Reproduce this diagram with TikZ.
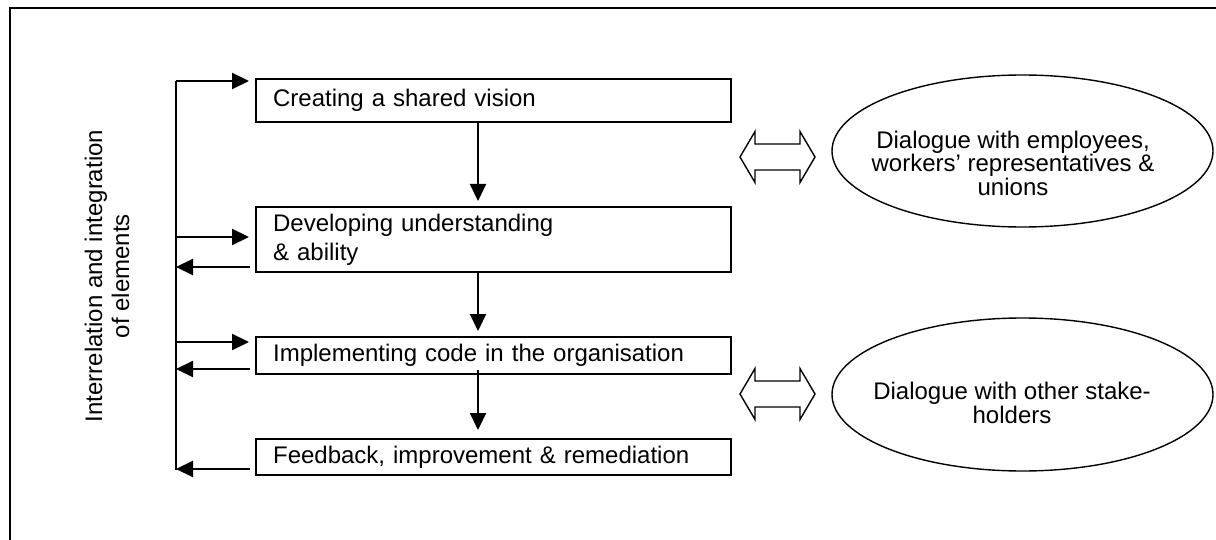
\documentclass[tikz,border=0pt]{standalone}
\usepackage{fontspec}
\setmainfont{Liberation Sans}
\usetikzlibrary{arrows.meta,shapes.geometric}
\begin{document}
\begin{tikzpicture}[x=0.5pt,y=-0.5pt,
  stepbox/.style={draw,line width=1.1pt,rectangle,anchor=north west,minimum width=237.5pt,
    text width=220.5pt,inner xsep=8.5pt,inner ysep=0pt,align=left,
    font=\fontsize{12}{14.5}\selectfont},
  arr/.style={line width=1.1pt,-{Triangle[length=8.5pt,width=8pt]}},
  dlg/.style={draw,line width=0.7pt,ellipse,minimum width=190.5pt,inner sep=0pt},
  dtext/.style={align=center,font=\fontsize{12}{11.75}\selectfont,inner sep=0pt},
  dblarrow/.pic={\draw[line width=0.7pt]
      (-37.5,0) -- (-22.5,-25.5) -- (-22.5,-13) -- (22.5,-13) -- (22.5,-25.5)
      -- (37.5,0) -- (22.5,25.5) -- (22.5,13) -- (-22.5,13) -- (-22.5,25.5) -- cycle;}]
\useasboundingbox (0,0) rectangle (1216,540);
% frame (right and bottom edges lie outside the picture)
\draw[line width=1.3pt] (10,540) -- (10,8) -- (1216,8);

% side label
\node[rotate=90,align=center,font=\fontsize{12}{13.5}\selectfont] (lab) at (107,276)
  {Interrelation and integration\\of elements};

% step boxes
\node[stepbox,minimum height=21.5pt] (b1) at (255,78) {Creating a shared vision};
\node[stepbox,minimum height=32.5pt] (b2) at (255,206) {Developing understanding\\\& ability};
\node[stepbox,minimum height=18.5pt] (b3) at (255,336) {Implementing code in the organisation};
\node[stepbox,minimum height=18pt] (b4) at (255,438) {Feedback, improvement \& remediation};

% down arrows
\coordinate (dx) at (478,0);
\draw[arr,shorten >=2.5pt] (dx |- b1.south) -- (dx |- b2.north);
\draw[arr,shorten >=2.5pt] (dx |- b2.south) -- (dx |- b3.north);
\draw[arr,shorten <=-2.5pt,shorten >=4pt] (dx |- b3.south) -- (dx |- b4.north);

% left spine
\coordinate (stop) at (176,81);
\coordinate (sbot) at (176,470);
\draw[line width=1.1pt] (stop) -- (sbot);
\coordinate (s2in) at (176,237);
\coordinate (s2out) at (176,267);
\coordinate (s3in) at (176,342);
\coordinate (s3out) at (176,369);
\coordinate (s4out) at (176,469);
\draw[arr,shorten >=3pt] (stop) -- (stop -| b1.west);
\draw[arr,shorten >=3pt] (s2in) -- (s2in -| b2.west);
\draw[arr,shorten <=2.5pt] (s2out -| b2.west) -- (s2out);
\draw[arr,shorten >=3pt] (s3in) -- (s3in -| b3.west);
\draw[arr,shorten <=2.5pt] (s3out -| b3.west) -- (s3out);
\draw[arr,shorten <=2.5pt] (s4out -| b4.west) -- (s4out);

% dialogue ellipses
\node[dlg,minimum height=76pt] (e1) at (1022.5,151) {};
\node[dtext] (t1) at (1013,163) {Dialogue with employees,\\workers’ representatives \&\\unions};
\node[dlg,minimum height=76.5pt] (e2) at (1022.5,394.5) {};
\node[dtext] (t2) at (1012,403) {Dialogue with other stake-\\holders};

% double arrows
\pic (d1) at (777.5,157) {dblarrow};
\pic (d2) at (777.5,394) {dblarrow};
\end{tikzpicture}
\end{document}
